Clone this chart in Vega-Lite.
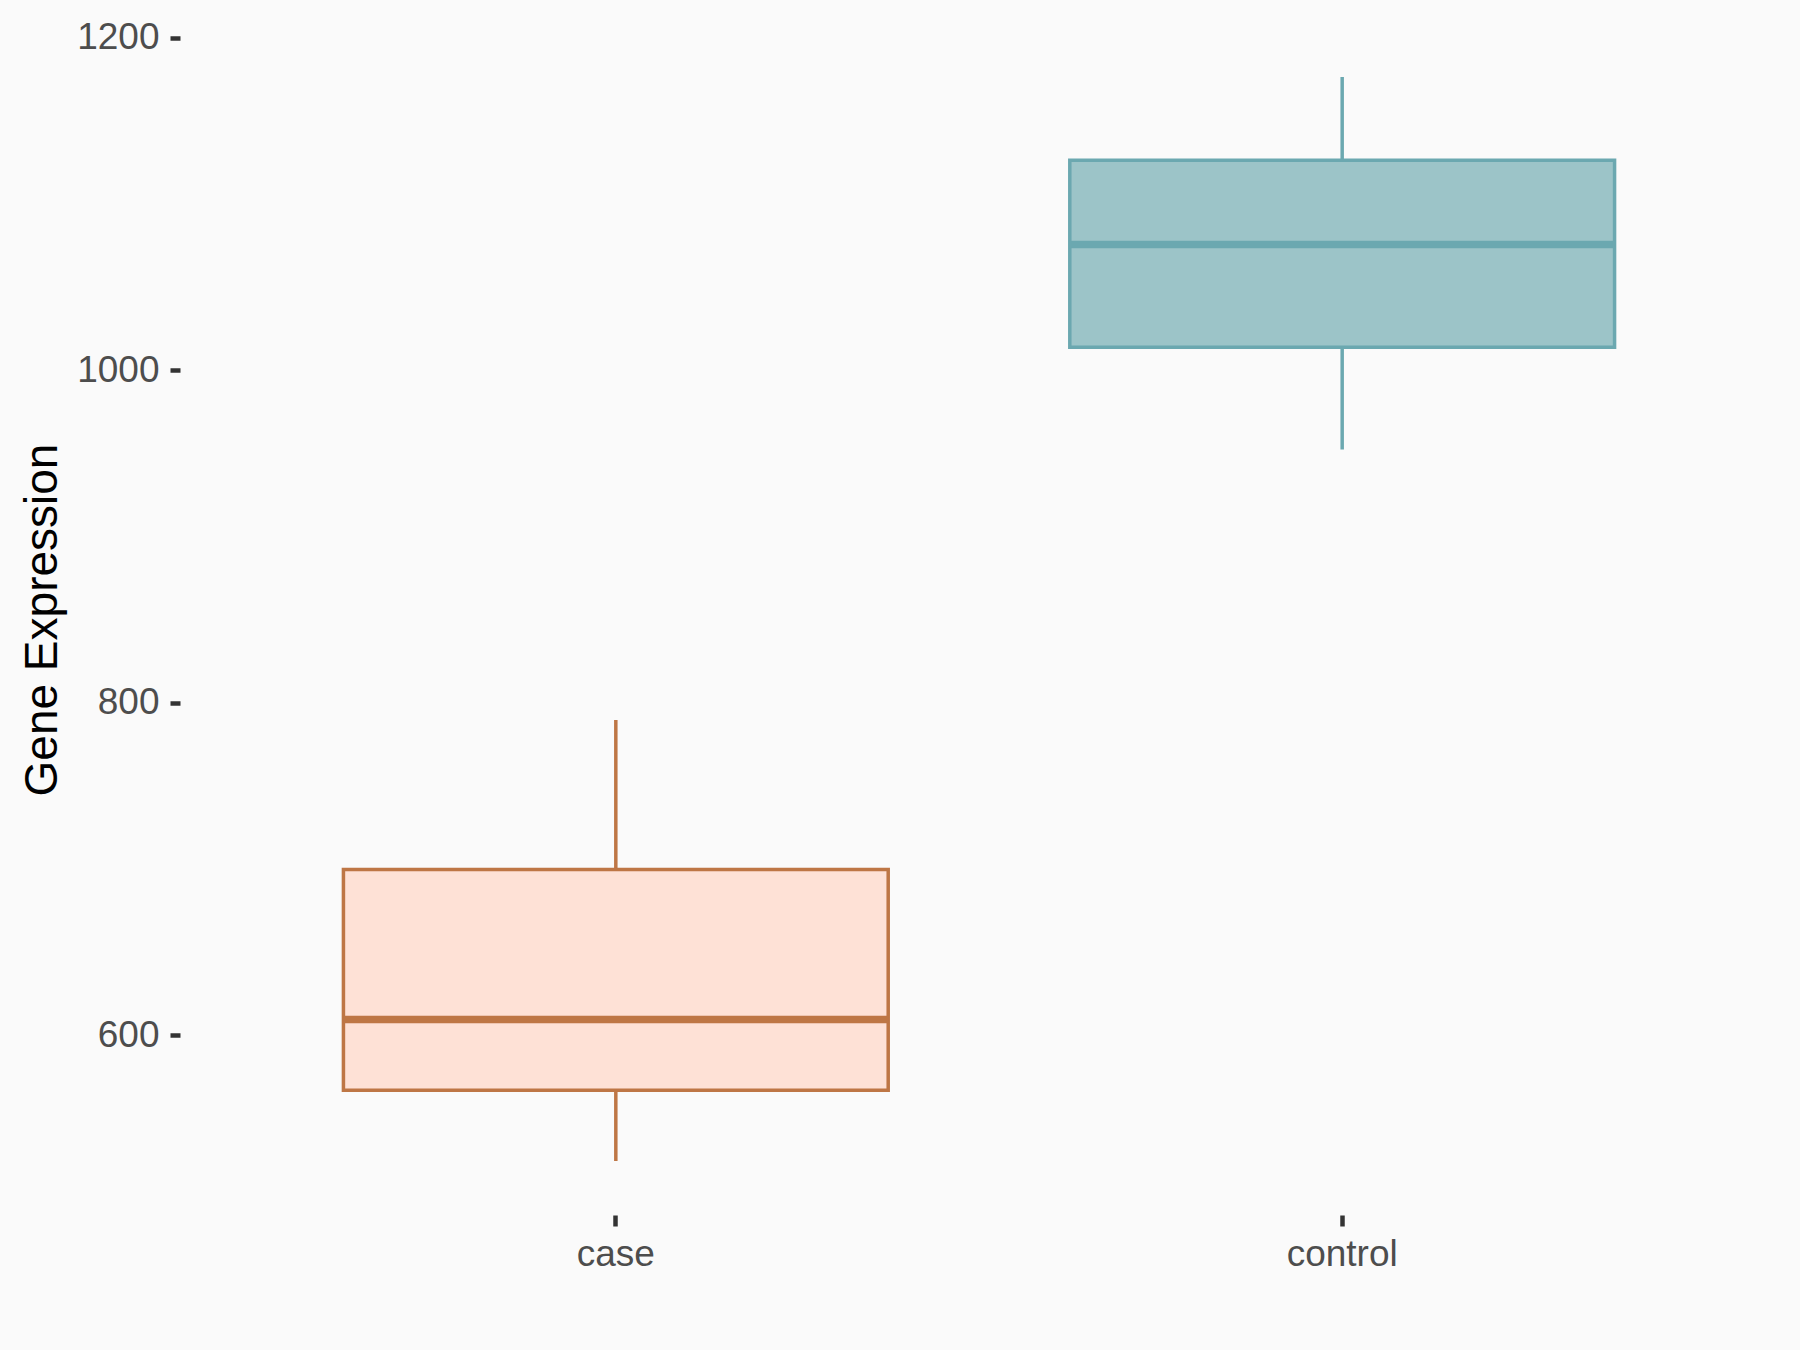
{
  "$schema": "https://vega.github.io/schema/vega-lite/v6.json",
  "width": 1598,
  "height": 1191,
  "autosize": "none",
  "padding": {"left": 180, "top": 24, "right": 22, "bottom": 135},
  "background": "#FAFAFA",
  "config": {
    "view": {"stroke": null},
    "font": "Liberation Sans",
    "axis": {
      "grid": false,
      "domain": false,
      "tickColor": "#333333",
      "tickWidth": 4.5,
      "labelFontSize": 37,
      "labelColor": "#4D4D4D",
      "labelFont": "Liberation Sans",
      "titleFont": "Liberation Sans",
      "titleFontWeight": "normal",
      "titleColor": "#000000"
    },
    "axisX": {"tickSize": 11, "labelPadding": 10, "labelAngle": 0},
    "axisY": {"tickSize": 10, "labelPadding": 11, "titleFontSize": 46, "titlePadding": 10}
  },
  "data": {
    "values": [
      {"group": "case", "lower": 524.5, "q1": 567.1, "median": 609.6, "q3": 699.8, "upper": 789.8},
      {"group": "control", "lower": 952.5, "q1": 1014.0, "median": 1075.8, "q3": 1126.5, "upper": 1176.5}
    ]
  },
  "encoding": {
    "x": {
      "field": "group",
      "type": "nominal",
      "scale": {"type": "band", "paddingInner": 0.25, "paddingOuter": 0.225},
      "axis": {"title": null}
    }
  },
  "layer": [
    {
      "mark": {"type": "rule", "strokeWidth": 3.5},
      "encoding": {
        "y": {
          "field": "lower",
          "type": "quantitative",
          "title": "Gene Expression",
          "scale": {"domain": [492.0, 1208.4], "nice": false, "zero": false},
          "axis": {"values": [600, 800, 1000, 1200], "format": "d"}
        },
        "y2": {"field": "upper"},
        "color": {
          "field": "group",
          "type": "nominal",
          "scale": {"domain": ["case", "control"], "range": ["#BE7645", "#6BA8B0"]},
          "legend": null
        }
      }
    },
    {
      "mark": {"type": "bar", "strokeWidth": 3.5},
      "encoding": {
        "y": {"field": "q1", "type": "quantitative", "title": "Gene Expression"},
        "y2": {"field": "q3"},
        "fill": {
          "field": "group",
          "type": "nominal",
          "scale": {"domain": ["case", "control"], "range": ["#FEE1D6", "#9CC4C8"]},
          "legend": null
        },
        "stroke": {
          "field": "group",
          "type": "nominal",
          "scale": {"domain": ["case", "control"], "range": ["#BE7645", "#6BA8B0"]},
          "legend": null
        }
      }
    },
    {
      "mark": {"type": "tick", "size": 545, "thickness": 7.5, "opacity": 1},
      "encoding": {
        "y": {"field": "median", "type": "quantitative", "title": "Gene Expression"},
        "color": {
          "field": "group",
          "type": "nominal",
          "scale": {"domain": ["case", "control"], "range": ["#BE7645", "#6BA8B0"]},
          "legend": null
        }
      }
    }
  ]
}
